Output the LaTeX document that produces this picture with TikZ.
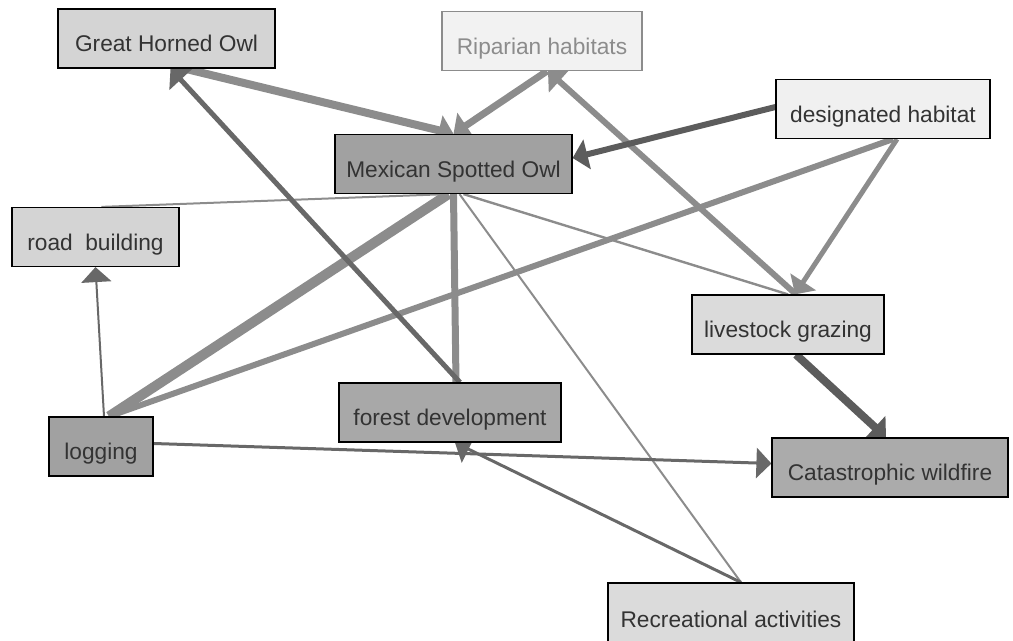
\documentclass[tikz,border=0pt]{standalone}
\usepackage{fontspec}
\setmainfont{Liberation Sans}
\usetikzlibrary{calc, positioning}
\usetikzlibrary{arrows.meta}
\usetikzlibrary{backgrounds}

\definecolor{txtgray}{HTML}{333333}
\definecolor{edgemid}{HTML}{8C8C8C}
\definecolor{edgedark}{HTML}{686868}
\definecolor{edgedeep}{HTML}{5C5C5C}

\begin{document}
\begin{tikzpicture}[x=0.5pt,y=-0.5pt,
  box/.style={draw=black, line width=0.6pt, minimum height=29.5pt, inner sep=0pt,
    text=txtgray, font=\fontsize{11.35}{13}\selectfont, text height=13.5pt, text depth=0pt},
  light/.style={box, fill=#1},
  link/.style={draw=edgemid, line width=#1},
  strong/.style={draw=edgedark, line width=#1},
  heavy/.style={draw=edgedeep, line width=#1},
  >={Triangle[length=7.5pt,width=15pt]}]
\useasboundingbox (0,0) rectangle (1013,641);

\node[light=black!17, minimum width=108.5pt] (gho) at (166.5,38.5) {Great Horned Owl};
\node[light=black!5, draw=edgemid, text=edgemid, minimum width=100pt] (rip) at (542,41) {Riparian habitats};
\node[light=black!37, minimum width=118.5pt] (mso) at (453.5,164) {Mexican Spotted Owl};
\node[light=black!6, minimum width=107pt] (dh) at (883,109) {designated habitat};
\node[light=black!17, minimum width=83.5pt] (rb) at (95.5,237) {road\ \ building};
\node[light=black!37, minimum width=52pt] (log) at (101,446.5) {logging};
\node[light=black!34, minimum width=111pt] (fd) at (450,412.5) {forest development};
\node[light=black!14, minimum width=96pt] (lg) at (788,324.5) {livestock grazing};
\node[light=black!33, minimum width=118pt] (cw) at (890,467.5) {Catastrophic wildfire};
\node[light=black!14, minimum width=123pt, minimum height=31pt] (rec) at (731,614) {Recreational activities};

\begin{scope}[on background layer]
\draw[link=1pt] ($(rb.north)+(6,0)$) -- ($(mso.south)+(-6,0)$);
\draw[link=1.2pt] ($(mso.south)+(10,0)$) -- (lg.north);
\draw[link=1pt] ($(rec.north)+(10,0)$) -- ($(mso.south)+(6,0)$);
\draw[link=3pt] ($(dh.south)+(10,0)$) -- ($(log.north)+(8,0)$);
\draw[link=5pt] ($(log.north)+(8,0)$) -- ($(mso.south)+(-5,0)$);
\draw[link=3.5pt] ($(fd.north)+(6,0)$) -- (mso.south);
\draw[link=4pt, ->] ($(gho.south)+(18,0)$) -- (mso.north);
\draw[link=3.5pt, ->] ($(rip.south)+(5,0)$) -- (mso.north);
\draw[link=3pt, ->] ($(lg.north)+(8,0)$) -- ($(rip.south)+(6,0)$);
\draw[link=2.5pt, ->] ($(dh.south)+(14,0)$) -- ($(lg.north)+(7,0)$);
\draw[strong=2.5pt, ->] ($(fd.north)+(10,0)$) -- ($(gho.south)+(4,0)$);
\draw[strong=1.5pt, ->] ($(rec.north)+(10,0)$) -- ($(fd.south)+(5,0)$);
\draw[strong=1.5pt, ->] ($(log.east)+(0,-3)$) -- ($(cw.west)+(0,-4)$);
\draw[strong=1pt, ->] ($(log.north)+(3,0)$) -- (rb.south);
\draw[heavy=3pt, ->] ($(dh.west)+(0,-2)$) -- ($(mso.east)+(0,-6)$);
\draw[heavy=4pt, ->] ($(lg.south)+(8,0)$) -- ($(cw.north)+(-4,0)$);
\end{scope}
\end{tikzpicture}
\end{document}
